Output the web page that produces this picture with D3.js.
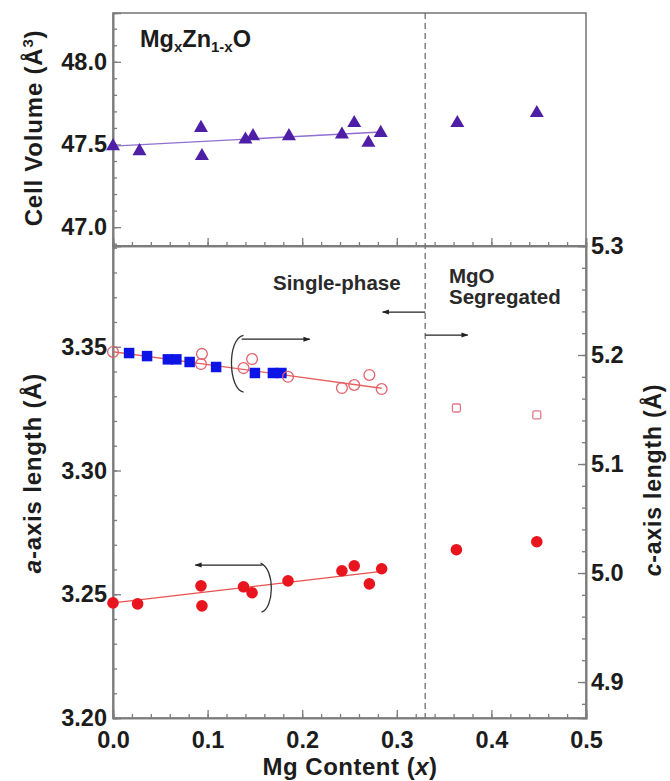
<!DOCTYPE html>
<html>
<head>
<meta charset="utf-8">
<script src="https://cdn.jsdelivr.net/npm/d3@7"></script>
<style>
  html, body { margin: 0; padding: 0; background: #fff; }
  svg { display: block; font-family: "Liberation Sans", Arial, Helvetica, sans-serif; }
  .tick text { font-weight: bold; fill: #1c1c1c; }
</style>
</head>
<body>
<svg id="chart" width="670" height="781"></svg>
<script>
// Mg content x for every sample
const volX   = [0.000, 0.028, 0.093, 0.094, 0.140, 0.148, 0.186, 0.242, 0.255, 0.270, 0.283, 0.364, 0.448];
// Unit cell volume (Å^3)
const volV   = [47.49, 47.46, 47.60, 47.43, 47.53, 47.55, 47.55, 47.56, 47.63, 47.51, 47.57, 47.63, 47.69];
// Linear fit of the single-phase cell volume
const volFitX = [0.000, 0.283];
const volFitV = [47.49, 47.575];

// a-axis length (Å), filled red circles
const aX = [0.000, 0.026, 0.093, 0.094, 0.138, 0.147, 0.185, 0.242, 0.255, 0.271, 0.284, 0.363, 0.448];
const aV = [3.2465, 3.2461, 3.2534, 3.2453, 3.2530, 3.2506, 3.2554, 3.2595, 3.2615, 3.2542, 3.2603, 3.2680, 3.2712];
const aFitX = [0.000, 0.284];
const aFitV = [3.2465, 3.2592];

// c-axis length (Å), open circles (single phase)
const cX = [0.000, 0.094, 0.093, 0.138, 0.147, 0.185, 0.242, 0.255, 0.271, 0.284];
const cV = [5.2028, 5.2010, 5.1917, 5.1880, 5.1963, 5.1800, 5.1697, 5.1725, 5.1817, 5.1688];
// c-axis length (Å), open squares (MgO segregated)
const cSegX = [0.363, 0.448];
const cSegV = [5.1514, 5.1450];
// c-axis length (Å), filled blue squares
const sqX = [0.017, 0.036, 0.058, 0.067, 0.081, 0.109, 0.150, 0.169, 0.178];
const sqV = [5.2018, 5.1990, 5.1960, 5.1960, 5.1936, 5.1890, 5.1835, 5.1835, 5.1835];
const cFitX = [0.000, 0.284];
const cFitV = [5.2030, 5.1695];

// Solubility limit
const limitX = 0.33;

// Tick values
const xMajor = [0.0, 0.1, 0.2, 0.3, 0.4, 0.5];
const xMinor = d3.range(0, 0.5001, 0.02);
const vMajor = [47.0, 47.5, 48.0];
const vMinor = d3.range(46.9, 48.25, 0.1);
const aMajor = [3.20, 3.25, 3.30, 3.35];
const aMinor = d3.range(3.20, 3.391, 0.01);
const cMajor = [4.9, 5.0, 5.1, 5.2, 5.3];
const cMinor = d3.range(4.88, 5.30, 0.02);

const svg = d3.select("#chart");
const L = 113, R = 586, T = 13, M = 246, B = 718;
const axisCol = "#7c7c7c";
const tickFont = 23.5;

const x  = d3.scaleLinear().domain([0, 0.5]).range([L, R]);
const yV = d3.scaleLinear().domain([46.886, 48.295]).range([M, T]);
const yA = d3.scaleLinear().domain([3.20, 3.3907]).range([B, M]);
const yC = d3.scaleLinear().domain([4.867, 5.30]).range([B, M]);

// Frames
svg.append("rect").attr("x", L).attr("y", T).attr("width", R - L).attr("height", B - T)
  .attr("fill", "none").attr("stroke", axisCol).attr("stroke-width", 1.6);

function styleAxis(g) {
  g.select(".domain").attr("stroke", axisCol).attr("stroke-width", 1.6);
  g.selectAll(".tick line").attr("stroke", axisCol).attr("stroke-width", 1.3);
}
function minorAxis(gen, vals, transform) {
  const g = svg.append("g").attr("transform", transform)
    .call(gen.tickValues(vals).tickSize(-4).tickFormat(""));
  styleAxis(g);
  return g;
}

// Bottom axis of upper panel (ticks pointing up, no labels)
minorAxis(d3.axisBottom(x), xMinor, `translate(0,${M})`);
styleAxis(svg.append("g").attr("transform", `translate(0,${M})`)
  .call(d3.axisBottom(x).tickValues(xMajor).tickSize(-8).tickFormat("")));

// Bottom axis of lower panel
minorAxis(d3.axisBottom(x), xMinor, `translate(0,${B})`);
const gxB = svg.append("g").attr("transform", `translate(0,${B})`)
  .call(d3.axisBottom(x).tickValues(xMajor).tickSize(-8).tickPadding(13).tickFormat(d3.format(".1f")));
styleAxis(gxB);
gxB.selectAll(".tick text").attr("font-size", tickFont);

// Upper left axis: cell volume
minorAxis(d3.axisLeft(yV), vMinor, `translate(${L},0)`);
const gV = svg.append("g").attr("transform", `translate(${L},0)`)
  .call(d3.axisLeft(yV).tickValues(vMajor).tickSize(-8).tickPadding(6).tickFormat(d3.format(".1f")));
styleAxis(gV);
gV.selectAll(".tick text").attr("font-size", tickFont);

// Lower left axis: a
minorAxis(d3.axisLeft(yA), aMinor, `translate(${L},0)`);
const gA = svg.append("g").attr("transform", `translate(${L},0)`)
  .call(d3.axisLeft(yA).tickValues(aMajor).tickSize(-8).tickPadding(6).tickFormat(d3.format(".2f")));
styleAxis(gA);
gA.selectAll(".tick text").attr("font-size", tickFont);

// Lower right axis: c
minorAxis(d3.axisRight(yC), cMinor, `translate(${R},0)`);
const gC = svg.append("g").attr("transform", `translate(${R},0)`)
  .call(d3.axisRight(yC).tickValues(cMajor).tickSize(-8).tickPadding(5).tickFormat(d3.format(".1f")));
styleAxis(gC);
gC.selectAll(".tick text").attr("font-size", tickFont);

// Panel divider
svg.append("line").attr("x1", L).attr("x2", R).attr("y1", M).attr("y2", M)
  .attr("stroke", axisCol).attr("stroke-width", 2);

// Solubility limit (dashed)
svg.append("line").attr("x1", x(limitX)).attr("x2", x(limitX)).attr("y1", T).attr("y2", B)
  .attr("stroke", "#6e6e6e").attr("stroke-width", 1.3).attr("stroke-dasharray", "6,4");

// Fit lines
const line = (sx, sy) => d3.line().x(d => sx(d[0])).y(d => sy(d[1]));
svg.append("path").datum(d3.zip(volFitX, volFitV)).attr("d", line(x, yV))
  .attr("fill", "none").attr("stroke", "#8f6fd0").attr("stroke-width", 1.4);
svg.append("path").datum(d3.zip(cFitX, cFitV)).attr("d", line(x, yC))
  .attr("fill", "none").attr("stroke", "#e86060").attr("stroke-width", 1.3);
svg.append("path").datum(d3.zip(aFitX, aFitV)).attr("d", line(x, yA))
  .attr("fill", "none").attr("stroke", "#e85050").attr("stroke-width", 1.3);

// Cell volume triangles
svg.append("g").selectAll("path").data(d3.zip(volX, volV)).join("path")
  .attr("transform", d => `translate(${x(d[0])},${yV(d[1])})`)
  .attr("d", d3.symbol(d3.symbolTriangle, 85))
  .attr("fill", "#4e1fa6");

// Blue squares (c)
svg.append("g").selectAll("path").data(d3.zip(sqX, sqV)).join("path")
  .attr("transform", d => `translate(${x(d[0])},${yC(d[1])})`)
  .attr("d", d3.symbol(d3.symbolSquare, 110))
  .attr("fill", "#0c14e6");

// Open circles (c)
svg.append("g").selectAll("circle").data(d3.zip(cX, cV)).join("circle")
  .attr("cx", d => x(d[0])).attr("cy", d => yC(d[1])).attr("r", 5.4)
  .attr("fill", "none").attr("stroke", "#e2606a").attr("stroke-width", 1.3);

// Open squares (c, segregated)
svg.append("g").selectAll("rect").data(d3.zip(cSegX, cSegV)).join("rect")
  .attr("x", d => x(d[0]) - 4).attr("y", d => yC(d[1]) - 4).attr("width", 8).attr("height", 8)
  .attr("rx", 1.5)
  .attr("fill", "none").attr("stroke", "#e07a88").attr("stroke-width", 1.3);

// Filled red circles (a)
svg.append("g").selectAll("circle").data(d3.zip(aX, aV)).join("circle")
  .attr("cx", d => x(d[0])).attr("cy", d => yA(d[1])).attr("r", 5.8)
  .attr("fill", "#e8141e");

// Arrowhead
svg.append("defs").append("marker").attr("id", "head")
  .attr("viewBox", "0 0 10 10").attr("refX", 9).attr("refY", 5)
  .attr("markerWidth", 9).attr("markerHeight", 7).attr("markerUnits", "userSpaceOnUse")
  .attr("orient", "auto")
  .append("path").attr("d", "M0,1.5 L10,5 L0,8.5 Z").attr("fill", "#222");

// Bracket pointing to the right (c) axis
const b1 = d3.path();
b1.moveTo(x(0.138), yC(5.2180));
b1.bezierCurveTo(x(0.120), yC(5.2150), x(0.122), yC(5.1680), x(0.138), yC(5.1660));
svg.append("path").attr("d", b1.toString()).attr("fill", "none")
  .attr("stroke", "#333").attr("stroke-width", 1.3);
svg.append("line").attr("x1", x(0.136)).attr("x2", x(0.208)).attr("y1", yC(5.2145)).attr("y2", yC(5.2145))
  .attr("stroke", "#222").attr("stroke-width", 1.3).attr("marker-end", "url(#head)");

// Bracket pointing to the left (a) axis
const b2 = d3.path();
b2.moveTo(x(0.156), yA(3.2626));
b2.bezierCurveTo(x(0.172), yA(3.2600), x(0.170), yA(3.2440), x(0.157), yA(3.2428));
svg.append("path").attr("d", b2.toString()).attr("fill", "none")
  .attr("stroke", "#333").attr("stroke-width", 1.3);
svg.append("line").attr("x1", x(0.158)).attr("x2", x(0.087)).attr("y1", yA(3.2618)).attr("y2", yA(3.2618))
  .attr("stroke", "#222").attr("stroke-width", 1.3).attr("marker-end", "url(#head)");

// Phase arrows at the solubility limit
svg.append("line").attr("x1", x(limitX)).attr("x2", x(0.285)).attr("y1", yC(5.2394)).attr("y2", yC(5.2394))
  .attr("stroke", "#222").attr("stroke-width", 1.3).attr("marker-end", "url(#head)");
svg.append("line").attr("x1", x(limitX)).attr("x2", x(0.375)).attr("y1", yC(5.2183)).attr("y2", yC(5.2183))
  .attr("stroke", "#222").attr("stroke-width", 1.3).attr("marker-end", "url(#head)");

// Annotations
const ann = svg.append("g").attr("font-weight", "bold").attr("fill", "#2a2a2a").attr("font-size", 20.5);
ann.append("text").attr("x", 273).attr("y", 290).text("Single-phase");
ann.append("text").attr("x", 449).attr("y", 283).text("MgO");
ann.append("text").attr("x", 449).attr("y", 304).text("Segregated");

// Formula
const f = svg.append("text").attr("x", 140).attr("y", 47).attr("font-weight", "bold")
  .attr("font-size", 23.5).attr("fill", "#1c1c1c");
f.append("tspan").text("Mg");
f.append("tspan").attr("font-size", 15).attr("dy", 5).text("x");
f.append("tspan").attr("dy", -5).text("Zn");
f.append("tspan").attr("font-size", 15).attr("dy", 5).text("1-x");
f.append("tspan").attr("dy", -5).text("O");

// Axis titles
const titles = svg.append("g").attr("font-weight", "bold").attr("fill", "#1c1c1c").attr("font-size", 24)
  .attr("letter-spacing", 0.8).attr("text-anchor", "middle");
const tV = titles.append("text").attr("transform", "translate(42,128) rotate(-90)");
tV.append("tspan").text("Cell Volume (Å");
tV.append("tspan").attr("font-size", 15).attr("dy", -9).text("3");
tV.append("tspan").attr("dy", 9).text(")");

const tA = titles.append("text").attr("transform", "translate(41,473) rotate(-90)");
tA.append("tspan").attr("font-style", "italic").text("a");
tA.append("tspan").text("-axis length (Å)");

const tC = titles.append("text").attr("transform", "translate(661,480) rotate(-90)")
  .attr("font-size", 23);
tC.append("tspan").attr("font-style", "italic").text("c");
tC.append("tspan").text("-axis length (Å)");

const tX = titles.append("text").attr("x", 350).attr("y", 775).attr("letter-spacing", 0.5);
tX.append("tspan").text("Mg Content (");
tX.append("tspan").attr("font-style", "italic").text("x");
tX.append("tspan").text(")");
</script>
</body>
</html>
